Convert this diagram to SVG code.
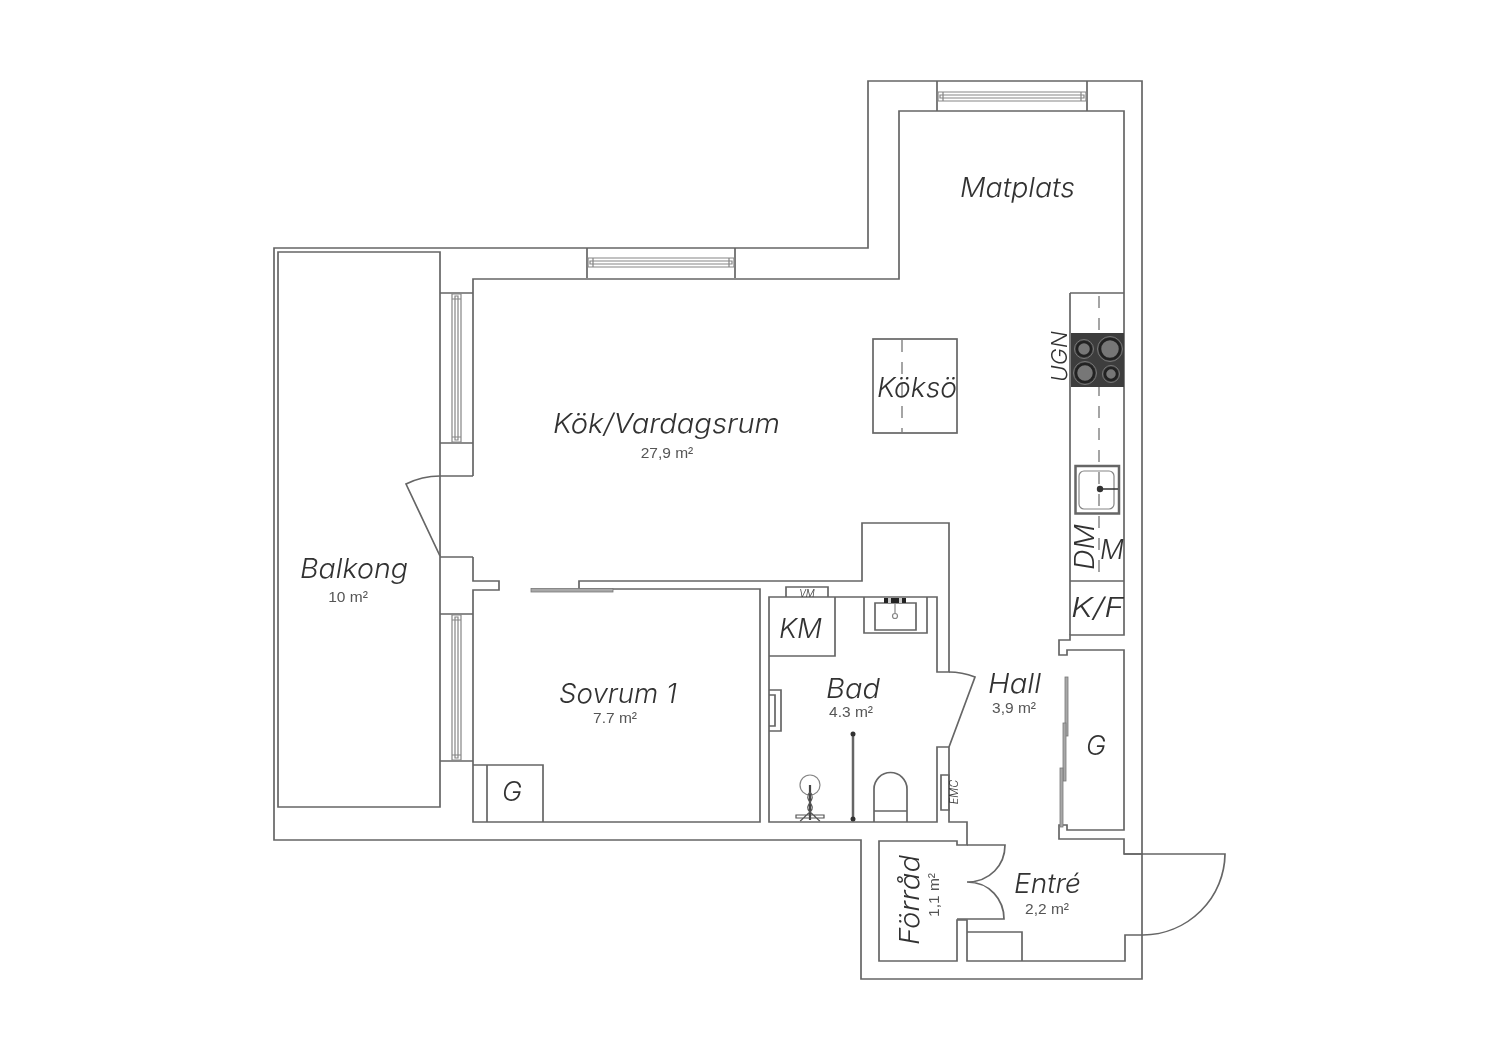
<svg xmlns="http://www.w3.org/2000/svg" width="1500" height="1060" viewBox="0 0 1500 1060">
<style>
.w{fill:none;stroke:#666;stroke-width:1.7;stroke-linejoin:miter}
.t{fill:none;stroke:#858585;stroke-width:1.2}
.d{fill:none;stroke:#8f8f8f;stroke-width:1.6;stroke-dasharray:12 10}
.g{fill:#a8a8a8;stroke:#787878;stroke-width:.8}
.l{font-family:Inter,Lato,"Open Sans",sans-serif;font-style:italic;font-weight:300;font-size:27px;fill:#333}
.a{font-family:"Liberation Sans",Arial,sans-serif;font-size:15.5px;fill:#555}
</style>
<defs><filter id="soft" filterUnits="userSpaceOnUse" x="0" y="0" width="1500" height="1060"><feGaussianBlur stdDeviation="0.45"/></filter></defs>
<rect width="1500" height="1060" fill="#fff"/>
<g filter="url(#soft)">
<g id="walls">
<path class="w" d="M274 248H868V81H1142V979H861V840H274Z"/>
<path class="w" d="M278 252H440V807H278Z"/>
<path class="w" d="M473 476V279H899V111H1124V293M1124 293V635H1070V640H1059V655H1067V650H1124V830H1067V825H1059V839H1124V854H1143"/>
<path class="w" d="M473 476H440M473 557H440M473 557V581H499V590H473V822H760V589H579V581H862V523H949V672H937V597H769V822H937V747H949V822H967V845H957V841H879V961H957V920H967V961H1125V935H1143"/>
</g>
<g id="windows">
<path class="w" d="M440 293H473M440 443H473M440 614H473M440 761H473M587 248V278M735 248V278M937 81V111M1087 81V111"/>
<g class="t">
<path d="M452 294H461V442H452ZM455 296V440H458V296ZM452 299H461M452 437H461"/>
<path d="M452 615H461V760H452ZM455 617V758H458V617ZM452 620H461M452 755H461"/>
<path d="M588 258H734V267H588ZM590 261H732V264H590ZM593 258V267M729 258V267"/>
<path d="M938 92H1086V101H938ZM940 95H1084V98H940ZM943 92V101M1081 92V101"/>
</g>
</g>
<g id="doors">
<path class="w" d="M440 476C427 476 416 479 406 484L440 556"/>
<path class="w" d="M949 672C958 672 967 674 975 677L949 747"/>
<path class="w" d="M967 845H1005C1005 865 990 882 967 882C990 882 1004 900 1004 919H957"/>
<path class="w" d="M1124 854H1225A83 82 0 0 1 1143 935"/>
<rect class="g" x="531" y="588.500" width="82" height="3.500"/>
<rect class="g" x="1065" y="677" width="3" height="59"/>
<rect class="g" x="1063" y="723" width="3" height="58"/>
<rect class="g" x="1060" y="768" width="3" height="59"/>
</g>
<g id="kitchen">
<path class="w" d="M1070 293H1124M1070 293V635M1070 581H1124"/>
<path class="d" d="M1099 296V581"/>
<rect x="1071" y="333" width="53" height="54" fill="#3c3c3c"/>
<g stroke="#222" stroke-width="2.500" fill="#777">
<circle cx="1084" cy="349" r="7"/><circle cx="1110" cy="349" r="10"/>
<circle cx="1085" cy="373" r="9"/><circle cx="1111" cy="374" r="6"/>
</g>
<g fill="none" stroke="#777" stroke-width="1">
<circle cx="1084" cy="349" r="9.500"/><circle cx="1110" cy="349" r="12.500"/>
<circle cx="1085" cy="373" r="11.500"/><circle cx="1111" cy="374" r="8.500"/>
</g>
<rect x="1075.500" y="466" width="43.500" height="47.500" fill="none" stroke="#666" stroke-width="2.500"/>
<rect x="1079" y="471" width="35" height="38" rx="5" class="t"/>
<circle cx="1100" cy="489" r="3.200" fill="#333"/><path d="M1100 489H1118" stroke="#333" stroke-width="1.500"/>
</g>
<g id="island">
<rect class="w" x="873" y="339" width="84" height="94"/>
<path class="d" d="M902 340V432"/>
</g>
<g id="bath">
<path class="w" d="M786 597V587H828V597M769 656H835V597"/>
<path class="w" d="M864 597V633H927V597M875 603H916V630H875Z"/>
<rect x="884" y="598" width="22" height="5" fill="#222"/><rect x="888" y="598" width="3" height="5" fill="#ccc"/><rect x="899" y="598" width="3" height="5" fill="#ccc"/>
<path class="t" d="M895 603V613"/><circle class="t" cx="895" cy="616" r="2.500"/>
<path class="w" d="M769 690H781V731H769M769 695H775V726H769"/>
<path d="M853 735V820" stroke="#666" stroke-width="2.500"/><circle cx="853" cy="734" r="2.500" fill="#333"/><circle cx="853" cy="819" r="2.500" fill="#333"/>
<path class="w" d="M874 822V789A16.500 16.500 0 0 1 907 789V822M874 811H907"/>
<circle class="t" cx="810" cy="785" r="10"/>
<path d="M810 785V820" stroke="#444" stroke-width="2.200"/>
<path class="t" d="M810 792C802 800 818 805 810 812C804 817 802 820 800 821M810 792C818 800 802 805 810 812C816 817 818 820 820 821M796 815H824V818H796Z" style="stroke:#555"/>
<path class="w" d="M941 775H949V810H941Z"/>
</g>
<g id="storage">
<path class="w" d="M473 765H543V822M487 765V822"/>
<path class="w" d="M967 932H1022V961"/>
</g>
<g id="labels">
<text class="l" x="553" y="433" textLength="227" lengthAdjust="spacingAndGlyphs">Kök/Vardagsrum</text>
<text class="a" x="667" y="458" text-anchor="middle">27,9 m²</text>
<text class="l" x="960" y="197" textLength="115" lengthAdjust="spacingAndGlyphs">Matplats</text>
<text class="l" x="877" y="397" textLength="80" lengthAdjust="spacingAndGlyphs">Köksö</text>
<text class="l" x="300" y="578" textLength="108" lengthAdjust="spacingAndGlyphs">Balkong</text>
<text class="a" x="348" y="602" text-anchor="middle">10 m²</text>
<text class="l" x="559" y="703" textLength="118" lengthAdjust="spacingAndGlyphs">Sovrum 1</text>
<text class="a" x="615" y="723" text-anchor="middle">7.7 m²</text>
<text class="l" x="512" y="801" text-anchor="middle">G</text>
<text class="l" x="779" y="638" textLength="43" lengthAdjust="spacingAndGlyphs">KM</text>
<text class="l" x="826" y="698" textLength="54" lengthAdjust="spacingAndGlyphs">Bad</text>
<text class="a" x="851" y="717" text-anchor="middle">4.3 m²</text>
<text class="l" x="988" y="693" textLength="53" lengthAdjust="spacingAndGlyphs">Hall</text>
<text class="a" x="1014" y="713" text-anchor="middle">3,9 m²</text>
<text class="l" x="1096" y="755" text-anchor="middle">G</text>
<text class="l" x="1014" y="893" textLength="67" lengthAdjust="spacingAndGlyphs">Entré</text>
<text class="a" x="1047" y="914" text-anchor="middle">2,2 m²</text>
<text class="l" transform="translate(919 945) rotate(-90)" textLength="90" lengthAdjust="spacingAndGlyphs">Förråd</text>
<text class="a" transform="translate(939 895) rotate(-90)" text-anchor="middle">1,1 m²</text>
<text class="l" x="1071" y="617" textLength="53" lengthAdjust="spacingAndGlyphs">K/F</text>
<text class="l" x="1100" y="559" textLength="24" lengthAdjust="spacingAndGlyphs">M</text>
<text class="l" transform="translate(1094 570) rotate(-90)" textLength="46" lengthAdjust="spacingAndGlyphs">DM</text>
<text class="l" transform="translate(1067 382) rotate(-90)" textLength="51" lengthAdjust="spacingAndGlyphs" style="font-size:22px">UGN</text>
<text class="l" x="807" y="597" text-anchor="middle" style="font-size:10px">VM</text>
<text class="l" transform="translate(958 792) rotate(-90)" text-anchor="middle" style="font-size:11px">EMC</text>
</g>
</g>
</svg>
